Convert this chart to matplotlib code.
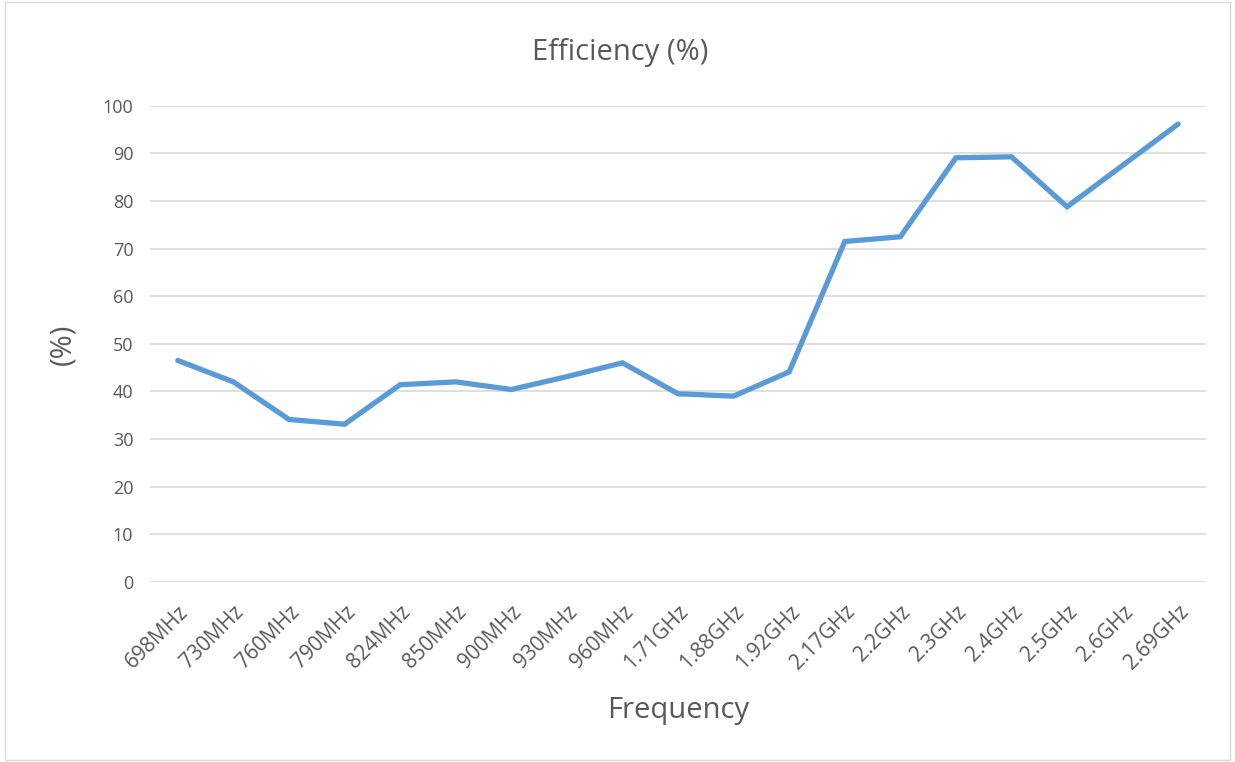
import matplotlib.pyplot as plt
from matplotlib.patches import Rectangle

# Data
frequencies = ['698MHz', '730MHz', '760MHz', '790MHz', '824MHz', '850MHz', '900MHz',
               '930MHz', '960MHz', '1.71GHz', '1.88GHz', '1.92GHz', '2.17GHz', '2.2GHz',
               '2.3GHz', '2.4GHz', '2.5GHz', '2.6GHz', '2.69GHz']
efficiency = [46.5, 42.0, 34.1, 33.1, 41.4, 42.0, 40.4, 43.1, 46.0, 39.5, 39.0,
              44.1, 71.5, 72.5, 89.1, 89.3, 78.8, 87.5, 96.2]

plt.rcParams['font.family'] = ['Open Sans', 'DejaVu Sans']
text_color = '#595959'

fig = plt.figure(figsize=(12.35, 7.62), dpi=100)
ax = fig.add_axes([0.1215, 0.2366, 0.855, 0.6244])

x = list(range(len(frequencies)))
ax.plot(x, efficiency, color='#5B9BD5', linewidth=3.8, solid_capstyle='round',
        solid_joinstyle='miter', zorder=3)

ax.set_xlim(-0.5, len(frequencies) - 0.5)
ax.set_ylim(0, 100)
ax.set_yticks(range(0, 101, 10))
ax.set_xticks(x)
ax.set_xticklabels(frequencies, rotation=45, ha='right', rotation_mode='anchor')

ax.grid(axis='y', color='#D9D9D9', linewidth=1.2, zorder=0)
for side in ['top', 'right', 'left', 'bottom']:
    ax.spines[side].set_visible(False)
ax.tick_params(axis='both', length=0, colors=text_color)
ax.tick_params(axis='y', pad=12, labelsize=13)
ax.tick_params(axis='x', pad=14, labelsize=15)

# title centred on the whole chart
fig.text(0.502, 0.931, 'Efficiency (%)', fontsize=21, color=text_color,
         ha='center', va='center')
ax.set_xlabel('Frequency', fontsize=21, color=text_color, labelpad=16)
ax.set_ylabel('(%)', fontsize=21, color=text_color, labelpad=18)

# light chart border
fig.patches.append(Rectangle((0.004, 0.003), 0.992, 0.994, transform=fig.transFigure,
                             fill=False, edgecolor='#D9D9D9', linewidth=1))

fig.savefig('out.png', dpi=100, facecolor='white')
